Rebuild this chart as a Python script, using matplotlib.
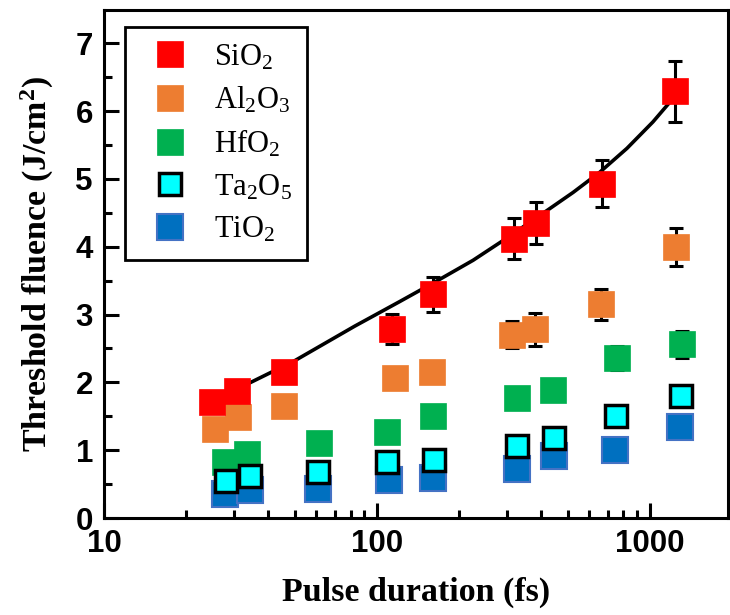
import matplotlib
matplotlib.use('Agg')
import matplotlib.pyplot as plt
from matplotlib.ticker import MultipleLocator, FixedLocator, FixedFormatter, LogLocator, NullFormatter

# Data (pulse duration in fs, threshold fluence in J/cm^2)
sio2_t = [24.9, 30.7, 45.6, 113.5, 160, 318, 382, 667, 1236]
sio2_f = [1.71, 1.87, 2.15, 2.79, 3.30, 4.12, 4.35, 4.93, 6.29]
sio2_err = [0.08, 0.1, 0.12, 0.22, 0.26, 0.30, 0.31, 0.35, 0.45]

al2o3_t = [25.5, 31, 45.6, 116, 159, 313, 379, 661, 1245]
al2o3_f = [1.31, 1.49, 1.65, 2.06, 2.15, 2.70, 2.78, 3.15, 3.99]
al2o3_err = [0.05, 0.05, 0.06, 0.1, 0.12, 0.2, 0.25, 0.23, 0.28]

hfo2_t = [27.7, 33.4, 61.4, 109, 160, 326, 441, 757, 1309]
hfo2_f = [0.83, 0.94, 1.10, 1.27, 1.50, 1.77, 1.89, 2.36, 2.56]
hfo2_err = [0.05, 0.05, 0.06, 0.08, 0.1, 0.12, 0.14, 0.18, 0.2]

ta2o5_t = [28, 34.3, 60.8, 109, 162, 326, 445, 750, 1300]
ta2o5_f = [0.55, 0.62, 0.68, 0.83, 0.85, 1.06, 1.18, 1.50, 1.80]

tio2_t = [27.7, 34.3, 60.8, 111, 160, 326, 445, 745, 1290]
tio2_f = [0.35, 0.41, 0.43, 0.56, 0.59, 0.72, 0.91, 1.00, 1.34]

# fit curve through SiO2
fit_t = [30.7, 50, 83, 121, 170, 225, 287, 395, 523, 656, 824, 1026, 1236]
fit_f = [1.90, 2.32, 2.83, 3.19, 3.52, 3.80, 4.08, 4.46, 4.80, 5.10, 5.45, 5.84, 6.22]

plt.rcParams['mathtext.fontset'] = 'custom'
plt.rcParams['mathtext.rm'] = 'Liberation Serif'
plt.rcParams['mathtext.bf'] = 'Liberation Serif:bold'
plt.rcParams['mathtext.default'] = 'regular'

fig = plt.figure(figsize=(7.3, 6.15), dpi=100)
ax = fig.add_axes([0.1425, 0.1577, 0.997 - 0.1425, 0.9837 - 0.1577])

ms = 18.5
eb = dict(fmt='none', ecolor='black', elinewidth=2.2, capsize=5, capthick=2.2)

ax.plot(fit_t, fit_f, color='black', lw=2.6, zorder=1)

ax.plot(tio2_t, tio2_f, 's', ms=ms, mfc='#0070c0', mec='#4472c4', mew=1.5, label=r'TiO$_2$', zorder=2)
ax.errorbar(hfo2_t, hfo2_f, yerr=hfo2_err, zorder=2.5, **eb)
ax.plot(hfo2_t, hfo2_f, 's', ms=ms, mfc='#00b050', mec='#00b050', mew=0.5, label=r'HfO$_2$', zorder=3)
ax.errorbar(al2o3_t, al2o3_f, yerr=al2o3_err, zorder=3.5, **eb)
ax.plot(al2o3_t, al2o3_f, 's', ms=ms, mfc='#ed7d31', mec='#ed7d31', mew=0.5, label=r'Al$_2$O$_3$', zorder=4)
ax.plot(ta2o5_t, ta2o5_f, 's', ms=ms - 2, mfc='#00ffff', mec='black', mew=2.5, label=r'Ta$_2$O$_5$', zorder=5)
ax.errorbar(sio2_t, sio2_f, yerr=sio2_err, zorder=5.5, **eb)
ax.plot(sio2_t, sio2_f, 's', ms=ms, mfc='#ff0000', mec='#ff0000', mew=0.5, label=r'SiO$_2$', zorder=6)

ax.set_xscale('log')
ax.set_xlim(10, 1930)
ax.set_ylim(0, 7.49)

ax.xaxis.set_major_locator(FixedLocator([10, 100, 1000]))
ax.xaxis.set_major_formatter(FixedFormatter(['10', '100', '1000']))
ax.xaxis.set_minor_locator(LogLocator(base=10, subs=range(2, 10)))
ax.xaxis.set_minor_formatter(NullFormatter())
ax.yaxis.set_major_locator(MultipleLocator(1))
ax.yaxis.set_minor_locator(MultipleLocator(0.5))

for s in ax.spines.values():
    s.set_linewidth(2.2)
ax.tick_params(which='major', direction='in', length=10.5, width=2.2, top=False, right=False,
               labelsize=22.5, pad=8)
ax.tick_params(which='minor', direction='in', length=5.5, width=2.2, top=False, right=False)
for lab in ax.get_xticklabels() + ax.get_yticklabels():
    lab.set_family('Liberation Sans')
    lab.set_fontweight('bold')

ax.set_xlabel('Pulse duration (fs)', family='Liberation Serif', fontweight='bold', fontsize=24.5, labelpad=13)
ax.set_ylabel(r'Threshold fluence (J/cm$^2$)', family='Liberation Serif', fontweight='bold', fontsize=24.5,
              labelpad=14)

order = ['SiO$_2$', 'Al$_2$O$_3$', 'HfO$_2$', 'Ta$_2$O$_5$', 'TiO$_2$']
handles, labels = ax.get_legend_handles_labels()
hmap = dict(zip(labels, handles))
leg = ax.legend([hmap[k] for k in order], order, loc='upper left', bbox_to_anchor=(0.034, 0.966),
                borderaxespad=0, fancybox=False, edgecolor='black', framealpha=1,
                prop={'family': 'Liberation Serif', 'size': 22}, handlelength=1.9, handletextpad=0.5,
                borderpad=0.5, labelspacing=0.42)
leg.get_frame().set_linewidth(2)

fig.savefig('out.png', dpi=100)
